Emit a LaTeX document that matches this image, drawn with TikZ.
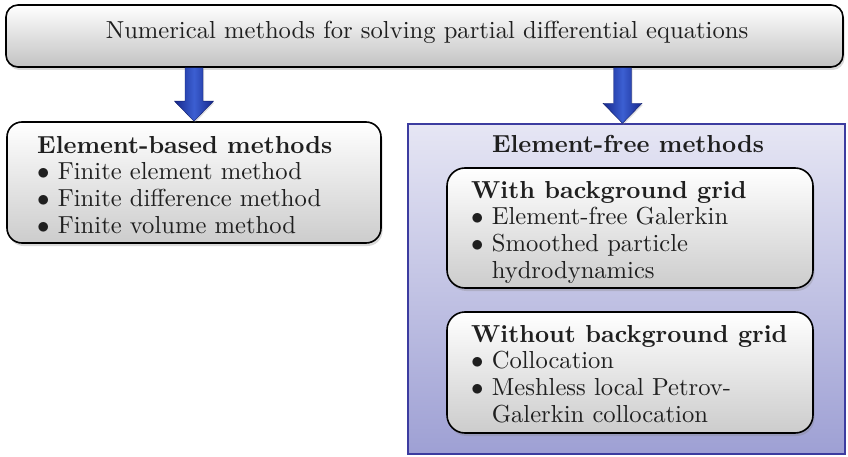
\documentclass[tikz,border=0pt]{standalone}
\usepackage{fontspec}
\setmainfont{lmroman10}[Extension=.otf, UprightFont=*-regular, BoldFont=*-bold,
  ItalicFont=*-italic, BoldItalicFont=*-bolditalic]
\usetikzlibrary{shadows,calc}
\definecolor{arrowdark}{RGB}{22,40,140}
\definecolor{arrowlight}{RGB}{60,95,210}
\definecolor{panetop}{RGB}{230,230,244}
\definecolor{panebottom}{RGB}{158,160,212}
\definecolor{paneborder}{RGB}{60,60,160}
\newcommand{\bul}{$\bullet$\ }
\newcommand{\hang}{\phantom{$\bullet$\ }}
\begin{document}
\begin{tikzpicture}[x=1pt,y=1pt,
  txt/.style={font=\fontsize{24.6}{26.6}\selectfont, inner sep=0pt, align=left, text=black!88},
  softshadow/.style={drop shadow={shadow xshift=1.5pt, shadow yshift=-3pt, opacity=0.3}},
  graybox/.style={draw=black, line width=1.6pt, rounded corners=15pt,
    top color=white, bottom color=gray!40, softshadow, inner sep=0pt},
  pane/.style={draw=paneborder, line width=1.4pt, top color=panetop,
    bottom color=panebottom, inner sep=0pt},
  bluearrow/.style={left color=arrowdark, right color=arrowdark,
    middle color=arrowlight, draw=arrowdark!80!black, line width=0.4pt,
    drop shadow={shadow xshift=1pt, shadow yshift=-1.5pt, opacity=0.25}}
]
\useasboundingbox (0,0) rectangle (848,-457);

% title box
\node[graybox, rounded corners=12pt, bottom color=gray!48,
  minimum width=837pt, minimum height=62pt] (top) at (424.5,-36) {};
\node[txt, anchor=base] (toptxt) at (427,-38.5) {Numerical methods for solving partial differential equations};

% element-based branch
\node[graybox, minimum width=374pt, minimum height=121pt] (eb) at (194,-182.5) {};
\node[txt, anchor=north west] (ebtxt) at (37,-136)
  {\textbf{Element-based methods}\\
   \bul Finite element method\\
   \bul Finite difference method\\
   \bul Finite volume method};

% element-free branch
\node[pane, minimum width=437pt, minimum height=330pt] (ef) at (626.5,-289) {};
\node[txt, anchor=base] (eftxt) at (628,-153) {\textbf{Element-free methods}};

\node[graybox, rounded corners=18pt, minimum width=366pt, minimum height=120pt] (wg) at (630,-228) {};
\node[txt, anchor=north west] (wgtxt) at (471,-181)
  {\textbf{With background grid}\\
   \bul Element-free Galerkin\\
   \bul Smoothed particle\\
   \hang hydrodynamics};

\node[graybox, rounded corners=18pt, minimum width=366pt, minimum height=121pt] (wog) at (630,-372.5) {};
\node[txt, anchor=north west] (wogtxt) at (471,-325)
  {\textbf{Without background grid}\\
   \bul Collocation\\
   \bul Meshless local Petrov-\\
   \hang Galerkin collocation};

% block arrows from the title box down to each branch
\foreach \tgt/\dx in {eb/0, ef/-4}{
  \coordinate (s) at ($(top.south -| \tgt.north)+(\dx,0)$);
  \coordinate (t) at ($(\tgt.north)+(\dx,0)$);
  \path[bluearrow] ($(s)+(-9,0)$) -- ($(t)+(-9,20)$) -- ($(t)+(-19.5,20)$)
    -- (t) -- ($(t)+(19.5,20)$) -- ($(t)+(9,20)$) -- ($(s)+(9,0)$) -- cycle;
}
\end{tikzpicture}
\end{document}
